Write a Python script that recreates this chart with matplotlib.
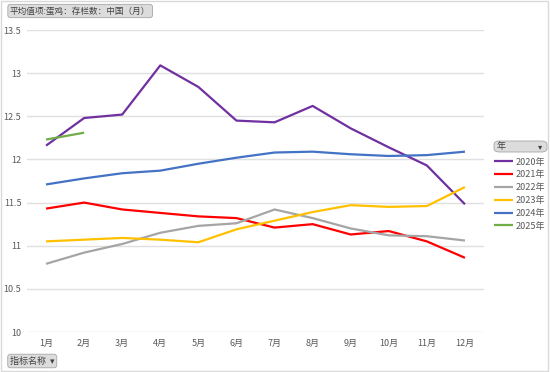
import matplotlib
matplotlib.use("Agg")
import matplotlib.pyplot as plt
from matplotlib.patches import FancyBboxPatch, Rectangle

plt.rcParams['font.family'] = ['Noto Sans CJK SC', 'DejaVu Sans']

months = ['1月', '2月', '3月', '4月', '5月', '6月', '7月', '8月', '9月', '10月', '11月', '12月']
years = ['2020年', '2021年', '2022年', '2023年', '2024年', '2025年']
colors = ['#7030A0', '#FF0000', '#A5A5A5', '#FFC000', '#4472C4', '#70AD47']

v2020 = [12.16, 12.48, 12.52, 13.09, 12.84, 12.45, 12.43, 12.62, 12.36, 12.14, 11.93, 11.48]
v2021 = [11.43, 11.50, 11.42, 11.38, 11.34, 11.32, 11.21, 11.25, 11.13, 11.17, 11.05, 10.86]
v2022 = [10.79, 10.92, 11.02, 11.15, 11.23, 11.26, 11.42, 11.32, 11.20, 11.12, 11.11, 11.06]
v2023 = [11.05, 11.07, 11.09, 11.07, 11.04, 11.19, 11.29, 11.39, 11.47, 11.45, 11.46, 11.68]
v2024 = [11.71, 11.78, 11.84, 11.87, 11.95, 12.02, 12.08, 12.09, 12.06, 12.04, 12.05, 12.09]
v2025 = [12.23, 12.31]
series = [v2020, v2021, v2022, v2023, v2024, v2025]

yticks = [10, 10.5, 11, 11.5, 12, 12.5, 13, 13.5]
ylabels = ['10', '10.5', '11', '11.5', '12', '12.5', '13', '13.5']

txt = '#595959'
fig = plt.figure(figsize=(5.5, 3.72), dpi=100)
fig.patches.append(Rectangle((0.002, 0.003), 0.995, 0.994, transform=fig.transFigure,
                             fill=False, edgecolor='#d9d9d9', linewidth=1))

ax = fig.add_axes([27 / 550, 1 - 332 / 372, (484 - 27) / 550, (332 - 30) / 372])
x = list(range(1, 13))
lines = []
for vals, name, c in zip(series, years, colors):
    ln, = ax.plot(x[:len(vals)], vals, color=c, linewidth=1.6, label=name, solid_capstyle='butt')
    lines.append(ln)

ax.set_xlim(0.5, 12.5)
ax.set_ylim(10, 13.5)
ax.set_yticks(yticks)
ax.set_yticklabels(ylabels)
ax.set_xticks(x)
ax.set_xticklabels(months)
ax.grid(axis='y', color='#e0e0e0', linewidth=1)
ax.set_axisbelow(True)
for s in ax.spines.values():
    s.set_visible(False)
ax.tick_params(length=0, labelsize=6.5, colors=txt, pad=4)
ax.tick_params(axis='x', pad=5)

# pivot field buttons
fig.text(10 / 550, 1 - 11 / 372, '平均值项:蛋鸡：存栏数：中国（月）', fontsize=6.2, color='#404040',
         va='center', ha='left',
         bbox=dict(boxstyle='round,pad=0.25,rounding_size=0.3', facecolor='#dcdcdc', edgecolor='#a6a6a6', linewidth=0.6))
fig.text(10 / 550, 1 - 361 / 372, '指标名称  ▾', fontsize=6.5, color='#404040',
         va='center', ha='left',
         bbox=dict(boxstyle='round,pad=0.25,rounding_size=0.3', facecolor='#dcdcdc', edgecolor='#a6a6a6', linewidth=0.6))
fig.patches.append(FancyBboxPatch((494 / 550, 1 - 152 / 372), 53 / 550, 11 / 372,
                                  boxstyle='round,pad=0,rounding_size=0.01', transform=fig.transFigure,
                                  facecolor='#dcdcdc', edgecolor='#a6a6a6', linewidth=0.6))
fig.text(497 / 550, 1 - 146.5 / 372, '年', fontsize=6.5, color='#404040', va='center', ha='left')
fig.text(540 / 550, 1 - 146.5 / 372, '▾', fontsize=6, color='#404040', va='center', ha='center')

fig.legend(handles=lines, loc='upper left', bbox_to_anchor=(490 / 550, 1 - 154 / 372),
           frameon=False, fontsize=6.5, labelcolor=txt, handlelength=2.2, handletextpad=0.2,
           labelspacing=0.42, borderaxespad=0)

fig.savefig('out.png', dpi=100)
